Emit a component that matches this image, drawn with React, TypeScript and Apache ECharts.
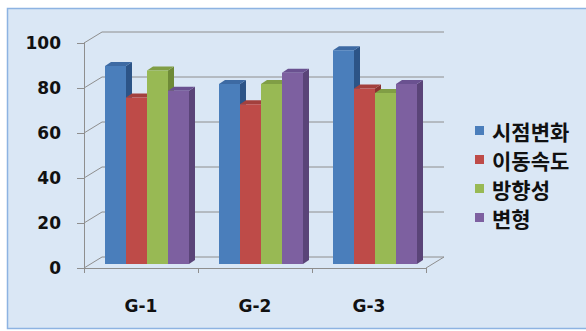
import React, { useEffect, useRef } from "react";
import * as echarts from "echarts";

const categories = ["G-1", "G-2", "G-3"];
const seriesNames = ["시점변화", "이동속도", "방향성", "변형"];
const viewpointChange = [88, 80, 95];
const movingSpeed = [74, 71, 78];
const direction = [86, 80, 76];
const deformation = [77, 85, 80];
const yTicks = [0, 20, 40, 60, 80, 100];

const seriesValues = [viewpointChange, movingSpeed, direction, deformation];
const faceColors = [
  { front: "#4a7ebb", side: "#2c5487", top: "#3d6aa3" },
  { front: "#be4b48", side: "#8b3331", top: "#a3403d" },
  { front: "#98b954", side: "#6e8a37", top: "#809e45" },
  { front: "#7d60a0", side: "#5a4478", top: "#6a5190" },
];

const WALL_DX = 18;
const WALL_DY = -11;
const FACE_DX = 6;
const FACE_DY = -4;
const DEPTH_DX = 6;
const DEPTH_DY = -4;

export default function App() {
  const ref = useRef<HTMLDivElement>(null);
  useEffect(() => {
    if (!ref.current) return;
    const chart = echarts.init(ref.current, null, { renderer: "svg" });
    const gridColor = "#8e8e8e";

    const frameSeries: any = {
      type: "custom",
      name: "frame",
      silent: true,
      z: 1,
      data: yTicks.map((v) => [0, v]),
      encode: { x: 0, y: 1 },
      renderItem: (params: any, api: any) => {
        const cs = params.coordSys;
        const v = api.value(1);
        const y = api.coord([0, v])[1];
        const x = cs.x;
        const children: any[] = [
          {
            type: "polyline",
            shape: {
              points: [
                [x, y],
                [x + WALL_DX, y + WALL_DY],
                [x + cs.width + WALL_DX, y + WALL_DY],
              ],
            },
            style: { stroke: gridColor, lineWidth: 1, fill: null },
          },
        ];
        if (v === 0) {
          children.push({
            type: "line",
            shape: {
              x1: x + cs.width,
              y1: y,
              x2: x + cs.width + WALL_DX,
              y2: y + WALL_DY,
            },
            style: { stroke: gridColor, lineWidth: 1 },
          });
        }
        return { type: "group", children };
      },
    };

    const barSeries = seriesNames.map((name, sIdx) => ({
      type: "custom",
      name,
      z: 2 + sIdx,
      itemStyle: { color: faceColors[sIdx].front },
      data: seriesValues[sIdx].map((v, i) => [i, v]),
      encode: { x: 0, y: 1 },
      renderItem: (params: any, api: any) => {
        const cs = params.coordSys;
        const band = cs.width / categories.length;
        const barW = (band * 21) / 114;
        const c = api.value(0);
        const v = api.value(1);
        const p = api.coord([c, v]);
        const p0 = api.coord([c, 0]);
        const x0 = p[0] - barW * 2 + sIdx * barW + FACE_DX;
        const yTop = p[1] + FACE_DY;
        const yBot = p0[1] + FACE_DY;
        const col = faceColors[sIdx];
        return {
          type: "group",
          children: [
            {
              type: "polygon",
              shape: {
                points: [
                  [x0 + barW, yTop],
                  [x0 + barW + DEPTH_DX, yTop + DEPTH_DY],
                  [x0 + barW + DEPTH_DX, yBot + DEPTH_DY],
                  [x0 + barW, yBot],
                ],
              },
              style: { fill: col.side },
            },
            {
              type: "polygon",
              shape: {
                points: [
                  [x0, yTop],
                  [x0 + DEPTH_DX, yTop + DEPTH_DY],
                  [x0 + barW + DEPTH_DX, yTop + DEPTH_DY],
                  [x0 + barW, yTop],
                ],
              },
              style: { fill: col.top },
            },
            {
              type: "rect",
              shape: { x: x0, y: yTop, width: barW, height: yBot - yTop },
              style: { fill: col.front },
            },
          ],
        };
      },
    }));

    chart.setOption({
      animation: false,
      backgroundColor: "#ffffff",
      graphic: [
        {
          type: "rect",
          z: -10,
          silent: true,
          shape: { x: 7.5, y: 8.5, width: 600, height: 320 },
          style: { fill: "#dae7f5", stroke: "#8db3e2", lineWidth: 1.5 },
        },
      ],
      grid: { left: 84, top: 43, width: 342, height: 225 },
      legend: {
        data: seriesNames,
        orient: "vertical",
        left: 475,
        top: 120,
        padding: 0,
        itemWidth: 9,
        itemHeight: 9,
        itemGap: 8,
        icon: "rect",
        textStyle: {
          fontFamily: "Noto Sans CJK KR",
          fontWeight: "bold",
          fontSize: 21,
          lineHeight: 21,
          color: "#111111",
          padding: [0, 0, 0, 3],
        },
      },
      xAxis: {
        type: "category",
        data: categories,
        boundaryGap: true,
        axisLine: { show: true, lineStyle: { color: gridColor, width: 1 } },
        axisTick: { show: true, length: 5, alignWithLabel: false, lineStyle: { color: gridColor } },
        axisLabel: {
          margin: 29,
          fontFamily: "DejaVu Sans",
          fontWeight: "bold",
          fontSize: 17,
          color: "#111111",
        },
        splitLine: { show: false },
      },
      yAxis: {
        type: "value",
        min: 0,
        max: 100,
        interval: 20,
        axisLine: { show: true, lineStyle: { color: gridColor, width: 1 } },
        axisTick: { show: true, length: 7, lineStyle: { color: gridColor } },
        axisLabel: {
          margin: 23,
          fontFamily: "DejaVu Sans",
          fontWeight: "bold",
          fontSize: 17,
          color: "#111111",
        },
        splitLine: { show: false },
      },
      series: [frameSeries, ...barSeries],
    });
    return () => chart.dispose();
  }, []);
  return (
    <div
      ref={ref}
      style={{ position: "fixed", left: 0, top: 0, width: 586, height: 331 }}
    />
  );
}
